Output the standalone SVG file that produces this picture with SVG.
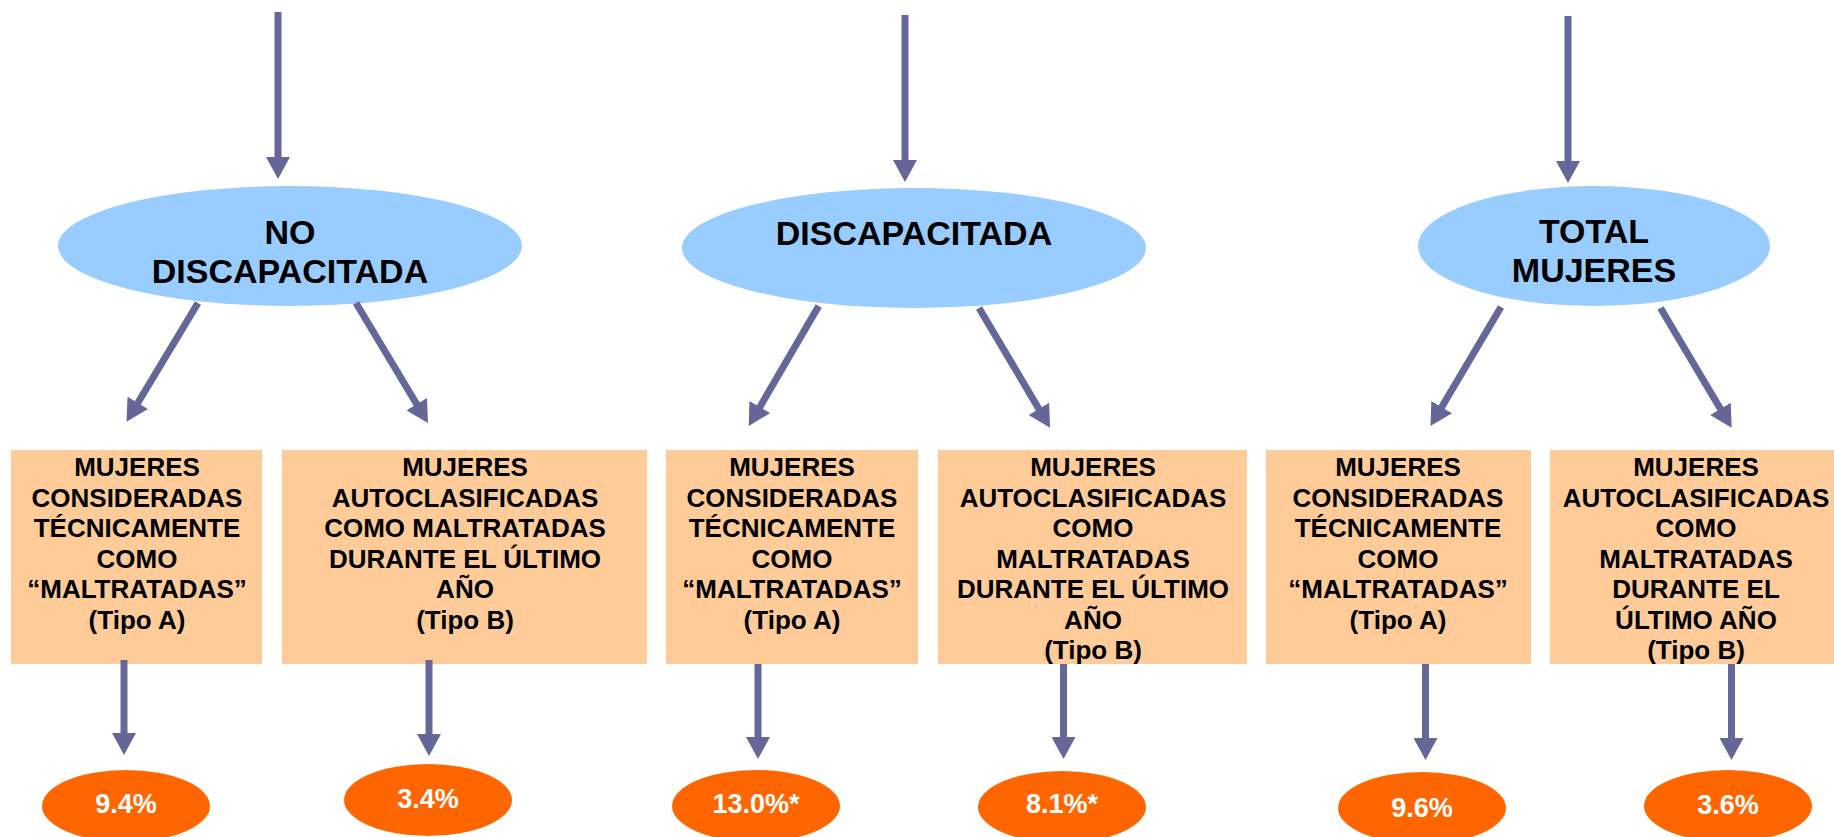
<svg xmlns="http://www.w3.org/2000/svg" width="1834" height="837" viewBox="0 0 1834 837">
<style>
.cat{fill:#99CCFF}
.box{fill:#FFCC99}
.res{fill:#FF6600}
.t{font-family:"Liberation Sans",Arial,sans-serif;font-weight:bold;text-anchor:middle}
.tt{font-size:34px;fill:#000}
.bt{font-size:26px;fill:#000}
.rt{font-size:27px;fill:#FFFFFF}
.c{stroke:#666699;stroke-width:7;fill:none;marker-end:url(#ah)}
</style>
<defs>
<marker id="ah" markerUnits="userSpaceOnUse" markerWidth="23" markerHeight="24" refX="8" refY="12" orient="auto" viewBox="0 0 23 24">
<path d="M0,0 L22,12 L0,24 Z" fill="#666699"/>
</marker>
</defs>
<rect width="1834" height="837" fill="#FFFFFF"/>

<g id="cat-no-discapacitada">
<ellipse class="cat" cx="290" cy="246" rx="232" ry="60"/>
<text class="t tt" x="290" y="244">NO</text>
<text class="t tt" x="290" y="283">DISCAPACITADA</text>
</g>
<g id="cat-discapacitada">
<ellipse class="cat" cx="914" cy="248" rx="232" ry="60"/>
<text class="t tt" x="914" y="245">DISCAPACITADA</text>
</g>
<g id="cat-total">
<ellipse class="cat" cx="1594" cy="246" rx="176" ry="60"/>
<text class="t tt" x="1594" y="243">TOTAL</text>
<text class="t tt" x="1594" y="282">MUJERES</text>
</g>

<g id="box-1">
<rect class="box" x="11" y="450" width="251" height="214"/>
<text class="t bt" x="137"><tspan x="137" y="476">MUJERES</tspan><tspan x="137" y="506.5">CONSIDERADAS</tspan><tspan x="137" y="537">TÉCNICAMENTE</tspan><tspan x="137" y="567.5">COMO</tspan><tspan x="137" y="598">“MALTRATADAS”</tspan><tspan x="137" y="628.5">(Tipo A)</tspan></text>
</g>
<g id="box-2">
<rect class="box" x="282" y="450" width="365" height="214"/>
<text class="t bt" x="465"><tspan x="465" y="476">MUJERES</tspan><tspan x="465" y="506.5">AUTOCLASIFICADAS</tspan><tspan x="465" y="537">COMO MALTRATADAS</tspan><tspan x="465" y="567.5">DURANTE EL ÚLTIMO</tspan><tspan x="465" y="598">AÑO</tspan><tspan x="465" y="628.5">(Tipo B)</tspan></text>
</g>
<g id="box-3">
<rect class="box" x="666" y="450" width="252" height="214"/>
<text class="t bt" x="792"><tspan x="792" y="476">MUJERES</tspan><tspan x="792" y="506.5">CONSIDERADAS</tspan><tspan x="792" y="537">TÉCNICAMENTE</tspan><tspan x="792" y="567.5">COMO</tspan><tspan x="792" y="598">“MALTRATADAS”</tspan><tspan x="792" y="628.5">(Tipo A)</tspan></text>
</g>
<g id="box-4">
<rect class="box" x="938" y="450" width="309" height="214"/>
<text class="t bt" x="1093"><tspan x="1093" y="476">MUJERES</tspan><tspan x="1093" y="506.5">AUTOCLASIFICADAS</tspan><tspan x="1093" y="537">COMO</tspan><tspan x="1093" y="567.5">MALTRATADAS</tspan><tspan x="1093" y="598">DURANTE EL ÚLTIMO</tspan><tspan x="1093" y="628.5">AÑO</tspan><tspan x="1093" y="659">(Tipo B)</tspan></text>
</g>
<g id="box-5">
<rect class="box" x="1266" y="450" width="265" height="214"/>
<text class="t bt" x="1398"><tspan x="1398" y="476">MUJERES</tspan><tspan x="1398" y="506.5">CONSIDERADAS</tspan><tspan x="1398" y="537">TÉCNICAMENTE</tspan><tspan x="1398" y="567.5">COMO</tspan><tspan x="1398" y="598">“MALTRATADAS”</tspan><tspan x="1398" y="628.5">(Tipo A)</tspan></text>
</g>
<g id="box-6">
<rect class="box" x="1550" y="450" width="292" height="214"/>
<text class="t bt" x="1696"><tspan x="1696" y="476">MUJERES</tspan><tspan x="1696" y="506.5">AUTOCLASIFICADAS</tspan><tspan x="1696" y="537">COMO</tspan><tspan x="1696" y="567.5">MALTRATADAS</tspan><tspan x="1696" y="598">DURANTE EL</tspan><tspan x="1696" y="628.5">ÚLTIMO AÑO</tspan><tspan x="1696" y="659">(Tipo B)</tspan></text>
</g>

<g id="res-1"><ellipse class="res" cx="126" cy="806" rx="84" ry="36"/><text class="t rt" x="126" y="813">9.4%</text></g>
<g id="res-2"><ellipse class="res" cx="428" cy="800" rx="84" ry="36"/><text class="t rt" x="428" y="808">3.4%</text></g>
<g id="res-3"><ellipse class="res" cx="756" cy="806" rx="84" ry="36"/><text class="t rt" x="756" y="813">13.0%*</text></g>
<g id="res-4"><ellipse class="res" cx="1062" cy="807" rx="84" ry="36"/><text class="t rt" x="1062" y="813">8.1%*</text></g>
<g id="res-5"><ellipse class="res" cx="1422" cy="808" rx="84" ry="36"/><text class="t rt" x="1422" y="817">9.6%</text></g>
<g id="res-6"><ellipse class="res" cx="1728" cy="806" rx="84" ry="36"/><text class="t rt" x="1728" y="814">3.6%</text></g>

<g id="connectors">
<line class="c" x1="278" y1="12" x2="278" y2="165"/>
<line class="c" x1="905" y1="15" x2="905" y2="168"/>
<line class="c" x1="1568" y1="16" x2="1568" y2="169"/>
<line class="c" x1="198" y1="303" x2="133.7" y2="409.7"/>
<line class="c" x1="356" y1="303" x2="420.8" y2="411"/>
<line class="c" x1="818.7" y1="306" x2="755.8" y2="413.9"/>
<line class="c" x1="979" y1="308" x2="1042.9" y2="415.7"/>
<line class="c" x1="1501" y1="307" x2="1437.6" y2="414"/>
<line class="c" x1="1660.5" y1="308" x2="1724.5" y2="415.7"/>
<line class="c" x1="124" y1="660" x2="124" y2="741"/>
<line class="c" x1="429" y1="660" x2="429" y2="742"/>
<line class="c" x1="758" y1="664" x2="758" y2="745"/>
<line class="c" x1="1063.5" y1="664" x2="1063.5" y2="745"/>
<line class="c" x1="1425.5" y1="664" x2="1425.5" y2="746"/>
<line class="c" x1="1731.5" y1="664" x2="1731.5" y2="746"/>
</g>
</svg>
